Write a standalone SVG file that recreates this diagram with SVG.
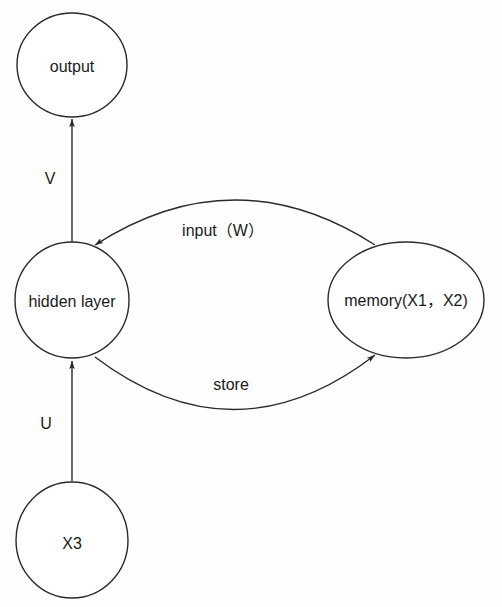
<svg xmlns="http://www.w3.org/2000/svg" width="502" height="607" viewBox="0 0 502 607">
<defs>
<style>
.node{fill:#fff;stroke:#2a2a2a;stroke-width:1.4}
.edge{fill:none;stroke:#2a2a2a;stroke-width:1.4}
text{font-family:"Liberation Sans","Noto Sans CJK SC",Arial,sans-serif;font-size:16px;fill:#1a1a1a;text-anchor:middle;dominant-baseline:central}
</style>
<marker id="arr" viewBox="0 0 10 10" refX="10" refY="5" markerWidth="8" markerHeight="8" markerUnits="userSpaceOnUse" orient="auto">
<path d="M0,1.5 L10,5 L0,8.5 L2,5 Z" fill="#2a2a2a"/>
</marker>
</defs>
<rect width="502" height="607" fill="#fefefe"/>
<g id="connectors">
<line class="edge" x1="72" y1="242" x2="72" y2="119" marker-end="url(#arr)"/>
<line class="edge" x1="72" y1="481" x2="72" y2="361" marker-end="url(#arr)"/>
<path class="edge" d="M375,245 Q235,155 95,245" marker-end="url(#arr)"/>
<path class="edge" d="M95,357 Q235,463 375,355" marker-end="url(#arr)"/>
<text x="50" y="178">V</text>
<text x="46" y="423">U</text>
<text x="223" y="230">input（W）</text>
<text x="231" y="384">store</text>
</g>
<g id="output">
<ellipse class="node" cx="72" cy="65" rx="55" ry="52"/>
<text x="72" y="66">output</text>
</g>
<g id="hidden">
<ellipse class="node" cx="72" cy="300" rx="57" ry="58"/>
<text x="72" y="301">hidden layer</text>
</g>
<g id="memory">
<ellipse class="node" cx="406" cy="300" rx="78" ry="58"/>
<text x="406" y="300">memory(X1，X2)</text>
</g>
<g id="x3">
<ellipse class="node" cx="72" cy="540" rx="56" ry="58"/>
<text x="72" y="543">X3</text>
</g>
</svg>
